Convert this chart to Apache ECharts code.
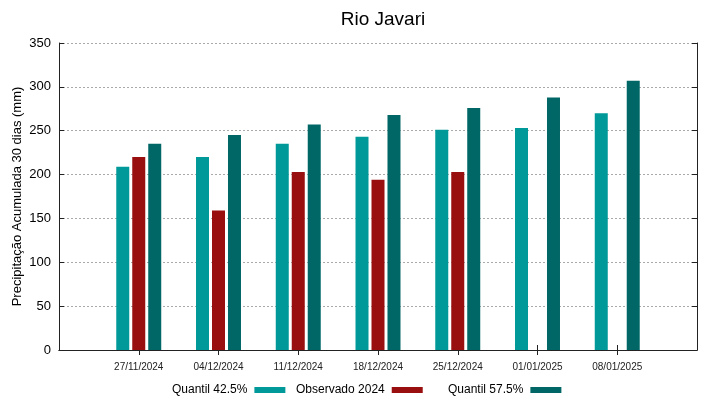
<!DOCTYPE html>
<html>
<head>
<meta charset="utf-8">
<script src="https://cdn.jsdelivr.net/npm/echarts@6/dist/echarts.min.js"></script>
<style>
  html, body { margin: 0; padding: 0; background: #fff; }
  #chart { width: 719px; height: 399px; }
</style>
</head>
<body>
<div id="chart"></div>
<script>
  // datas (a primeira e a ultima ficam vazias para dar a margem do grafico)
  var datas = ['', '27/11/2024', '04/12/2024', '11/12/2024', '18/12/2024', '25/12/2024', '01/01/2025', '08/01/2025', ''];
  var quantil425 = [null, 209, 220, 235, 243, 251, 253, 270, null];
  var observado2024 = [null, 220, 159, 203, 194, 203, null, null, null];
  var quantil575 = [null, 235, 245, 257, 268, 276, 288, 307, null];

  var fonte = 'Liberation Sans, Arial, sans-serif';
  var chart = echarts.init(document.getElementById('chart'));

  function tickReal(idx) {
    return idx > 0 && idx < datas.length - 1;
  }

  function legenda(nome, x) {
    return {
      data: [nome], left: x, top: 384, padding: 0, align: 'right', icon: 'rect',
      itemWidth: 31, itemHeight: 6,
      textStyle: { fontFamily: fonte, fontSize: 12, color: '#000', padding: [0, 2, 0, 0] }
    };
  }

  var option = {
    animation: false,
    textStyle: { fontFamily: fonte },
    title: {
      text: 'Rio Javari',
      left: 378,
      textAlign: 'center',
      top: 5,
      textStyle: { fontFamily: fonte, fontSize: 19, fontWeight: 'normal', color: '#000' }
    },
    legend: [
      legenda('Quantil 42.5%', 172),
      legenda('Observado 2024', 296),
      legenda('Quantil 57.5%', 448)
    ],
    grid: { left: 59, right: 22, top: 43, bottom: 49 },
    xAxis: [
      {
        type: 'category',
        data: datas,
        boundaryGap: false,
        axisLine: { lineStyle: { color: '#222', width: 1 } },
        axisTick: { inside: true, length: 5, interval: tickReal, lineStyle: { color: '#222' } },
        axisLabel: { interval: 0, margin: 12, fontSize: 10, color: '#222', fontFamily: fonte },
        splitLine: { show: false }
      },
      {
        type: 'category',
        position: 'top',
        data: datas,
        boundaryGap: false,
        axisLine: { lineStyle: { color: '#222', width: 1 } },
        axisTick: { inside: true, length: 5, interval: tickReal, lineStyle: { color: '#222' } },
        axisLabel: { show: false },
        splitLine: { show: false }
      }
    ],
    yAxis: [
      {
        type: 'value',
        min: 0,
        max: 350,
        interval: 50,
        name: 'Precipitação Acumulada 30 dias (mm)',
        nameLocation: 'middle',
        nameGap: 35,
        nameMoveOverlap: false,
        nameTextStyle: { fontFamily: fonte, fontSize: 13, color: '#000' },
        axisLine: { show: true, lineStyle: { color: '#222' } },
        axisTick: { show: true, inside: true, length: 5, lineStyle: { color: '#222' } },
        axisLabel: { fontSize: 13, color: '#000', margin: 8, fontFamily: fonte },
        splitLine: { show: true, lineStyle: { color: '#aaa', type: [2, 2], width: 1 } }
      },
      {
        type: 'value',
        position: 'right',
        min: 0,
        max: 350,
        interval: 50,
        axisLine: { show: true, lineStyle: { color: '#222' } },
        axisTick: { show: true, inside: true, length: 5, lineStyle: { color: '#222' } },
        axisLabel: { show: false },
        splitLine: { show: false }
      }
    ],
    series: [
      { name: 'Quantil 42.5%', type: 'bar', data: quantil425, barWidth: 13, barGap: '23%', itemStyle: { color: '#009999' } },
      { name: 'Observado 2024', type: 'bar', data: observado2024, barWidth: 13, barGap: '23%', itemStyle: { color: '#990f0f' } },
      { name: 'Quantil 57.5%', type: 'bar', data: quantil575, barWidth: 13, barGap: '23%', itemStyle: { color: '#006666' } }
    ]
  };

  chart.setOption(option);
</script>
</body>
</html>
